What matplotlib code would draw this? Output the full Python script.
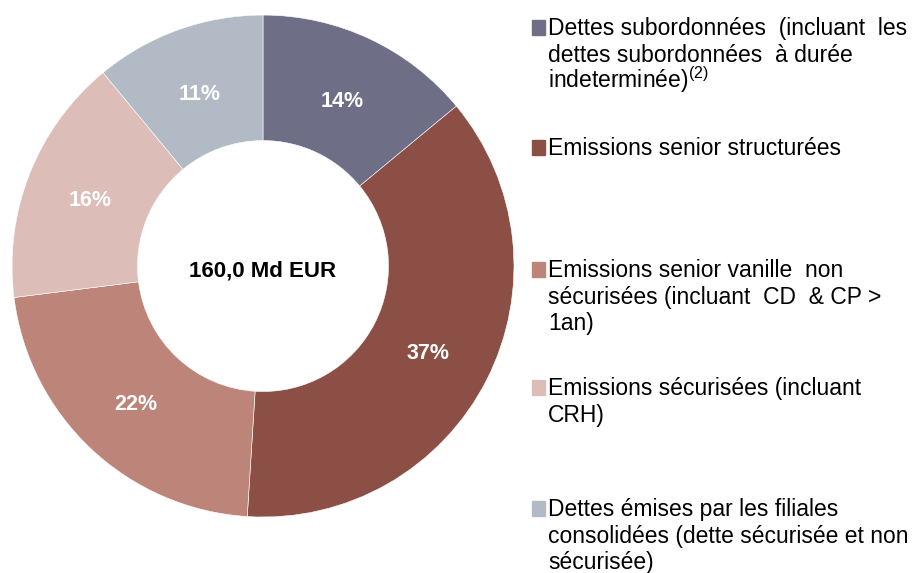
import matplotlib.pyplot as plt
from matplotlib.patches import Rectangle

plt.rcParams['font.family'] = ['Liberation Sans', 'DejaVu Sans']
plt.rcParams['mathtext.fontset'] = 'custom'
plt.rcParams['mathtext.rm'] = 'Liberation Sans'

# parts de l'encours de dette (%)
categories = [
    "Dettes subordonnées  (incluant  les\ndettes subordonnées  à durée\nindeterminée)$^{(2)}$",
    "Emissions senior structurées",
    "Emissions senior vanille  non\nsécurisées (incluant  CD  & CP >\n1an)",
    "Emissions sécurisées (incluant\nCRH)",
    "Dettes émises par les filiales\nconsolidées (dette sécurisée et non\nsécurisée)",
]
values = [14, 37, 22, 16, 11]
colors = ['#6E6E87', '#8C4F46', '#BD8579', '#DDBDB7', '#B2BAC6']
total_label = "160,0 Md EUR"

fig = plt.figure(figsize=(9.18, 5.73), dpi=100)
ax = fig.add_axes([0.0131, 0.0977, 0.5468, 0.876])

wedges, texts, autotexts = ax.pie(
    values, colors=colors, startangle=90, counterclock=False,
    autopct='%d%%', pctdistance=0.74, radius=1,
    wedgeprops=dict(width=0.5, edgecolor='white', linewidth=0.4),
    textprops=dict(color='white', fontsize=15.5, fontweight='bold'))
for t in autotexts:
    x, y = t.get_position()
    t.set_position((x, y - 0.012))
ax.set_xlim(-1, 1)
ax.set_ylim(-1, 1)
ax.set_aspect('equal')
ax.text(0, -0.02, total_label, ha='center', va='center',
        fontsize=16, fontweight='bold', color='black')

# légende à droite, ligne par ligne
baselines = [35, 155, 277, 395, 516]  # ligne de base de la 1re ligne (px)
pitch = 26.7
W, H = 918, 573
for lab, col, yb in zip(categories, colors, baselines):
    fig.patches.append(Rectangle((532 / W, 1 - yb / H), 13 / W, 15 / H,
                                 transform=fig.transFigure, color=col))
    for i, line in enumerate(lab.split('\n')):
        fig.text(548 / W, 1 - (yb + i * pitch) / H, line, ha='left',
                 va='baseline', fontsize=16.5, color='black')

fig.savefig('out.png', dpi=100)
